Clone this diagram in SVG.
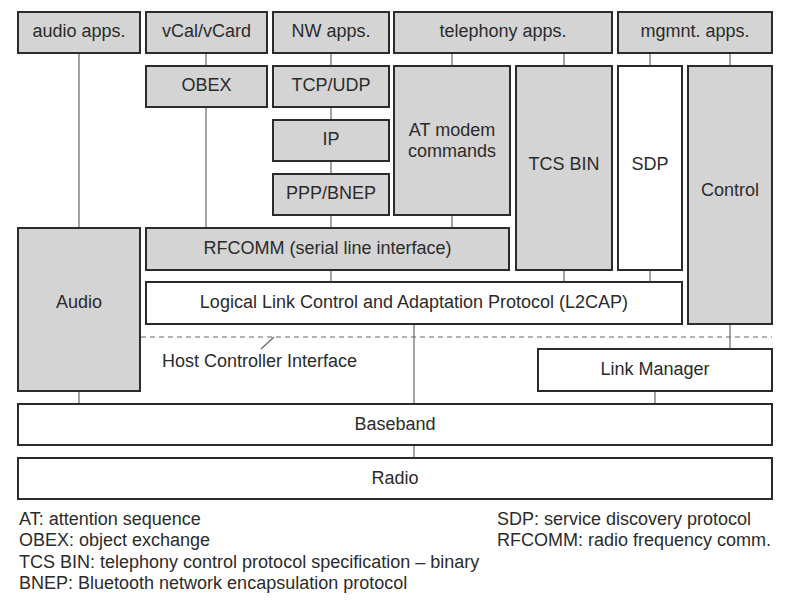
<svg xmlns="http://www.w3.org/2000/svg" width="791" height="612" viewBox="0 0 791 612">
<style>
.b{fill:#d4d4d4;stroke:#2b2b2b;stroke-width:2}
.w{fill:#ffffff;stroke:#2b2b2b;stroke-width:2}
.c{stroke:#666;stroke-width:1.2;fill:none}
text{font-family:"Liberation Sans",Arial,Helvetica,sans-serif;font-size:18px;fill:#2b2b2b}
.m{text-anchor:middle}
</style>
<rect width="791" height="612" fill="#fff"/>
<g id="connectors">
<line class="c" x1="79" y1="53" x2="79" y2="228"/>
<line class="c" x1="79" y1="391" x2="79" y2="404"/>
<line class="c" x1="206" y1="53" x2="206" y2="66"/>
<line class="c" x1="206" y1="107" x2="206" y2="228"/>
<line class="c" x1="331" y1="53" x2="331" y2="66"/>
<line class="c" x1="331" y1="107" x2="331" y2="120"/>
<line class="c" x1="331" y1="161" x2="331" y2="174"/>
<line class="c" x1="331" y1="215" x2="331" y2="228"/>
<line class="c" x1="331" y1="270" x2="331" y2="282"/>
<line class="c" x1="452" y1="53" x2="452" y2="66"/>
<line class="c" x1="452" y1="215" x2="452" y2="228"/>
<line class="c" x1="564" y1="53" x2="564" y2="66"/>
<line class="c" x1="564" y1="270" x2="564" y2="282"/>
<line class="c" x1="650" y1="53" x2="650" y2="66"/>
<line class="c" x1="650" y1="270" x2="650" y2="282"/>
<line class="c" x1="730" y1="53" x2="730" y2="66"/>
<line class="c" x1="730" y1="324" x2="730" y2="349"/>
<line class="c" x1="414" y1="324" x2="414" y2="404"/>
<line class="c" x1="655" y1="391" x2="655" y2="404"/>
<line class="c" x1="414" y1="445" x2="414" y2="458"/>
<line class="c" x1="141" y1="337" x2="772" y2="337" stroke-dasharray="5,4"/>
<line class="c" x1="261" y1="349" x2="274" y2="337"/>
</g>
<g id="audio-apps"><rect class="b" x="18" y="12" width="122" height="41"/><text class="m" x="79" y="37">audio apps.</text></g>
<g id="vcal"><rect class="b" x="146" y="12" width="121" height="41"/><text class="m" x="206.5" y="37">vCal/vCard</text></g>
<g id="nw-apps"><rect class="b" x="273" y="12" width="116" height="41"/><text class="m" x="331" y="37">NW apps.</text></g>
<g id="telephony-apps"><rect class="b" x="394" y="12" width="218" height="41"/><text class="m" x="503" y="37">telephony apps.</text></g>
<g id="mgmnt-apps"><rect class="b" x="618" y="12" width="154" height="41"/><text class="m" x="695" y="37">mgmnt. apps.</text></g>
<g id="obex"><rect class="b" x="146" y="66" width="121" height="41"/><text class="m" x="206.5" y="91">OBEX</text></g>
<g id="tcpudp"><rect class="b" x="273" y="66" width="116" height="41"/><text class="m" x="331" y="91">TCP/UDP</text></g>
<g id="ip"><rect class="b" x="273" y="120" width="116" height="41"/><text class="m" x="331" y="145">IP</text></g>
<g id="pppbnep"><rect class="b" x="273" y="174" width="116" height="41"/><text class="m" x="331" y="199">PPP/BNEP</text></g>
<g id="at-modem"><rect class="b" x="394" y="66" width="116" height="149"/><text class="m" x="452" y="135.5">AT modem</text><text class="m" x="452" y="157">commands</text></g>
<g id="tcs-bin"><rect class="b" x="516" y="66" width="96" height="204"/><text class="m" x="564" y="169.5">TCS BIN</text></g>
<g id="sdp"><rect class="w" x="618" y="66" width="64" height="204"/><text class="m" x="650" y="169.5">SDP</text></g>
<g id="control"><rect class="b" x="688" y="66" width="84" height="258"/><text class="m" x="730" y="196">Control</text></g>
<g id="audio"><rect class="b" x="18" y="228" width="122" height="163"/><text class="m" x="79" y="308">Audio</text></g>
<g id="rfcomm"><rect class="b" x="146" y="228" width="363" height="42"/><text class="m" x="327.5" y="254">RFCOMM (serial line interface)</text></g>
<g id="l2cap"><rect class="w" x="146" y="282" width="536" height="42"/><text class="m" x="414" y="307.5">Logical Link Control and Adaptation Protocol (L2CAP)</text></g>
<g id="hci"><text x="162" y="366.5">Host Controller Interface</text></g>
<g id="link-manager"><rect class="w" x="538" y="349" width="234" height="42"/><text class="m" x="655" y="375">Link Manager</text></g>
<g id="baseband"><rect class="w" x="18" y="404" width="754" height="41"/><text class="m" x="395" y="430">Baseband</text></g>
<g id="radio"><rect class="w" x="18" y="458" width="754" height="41"/><text class="m" x="395" y="483.5">Radio</text></g>
<g id="legend">
<text x="19" y="524.5">AT: attention sequence</text>
<text x="19" y="546">OBEX: object exchange</text>
<text x="19" y="567.5">TCS BIN: telephony control protocol specification – binary</text>
<text x="19" y="589">BNEP: Bluetooth network encapsulation protocol</text>
<text x="497" y="524.5">SDP: service discovery protocol</text>
<text x="497" y="546">RFCOMM: radio frequency comm.</text>
</g>
</svg>
